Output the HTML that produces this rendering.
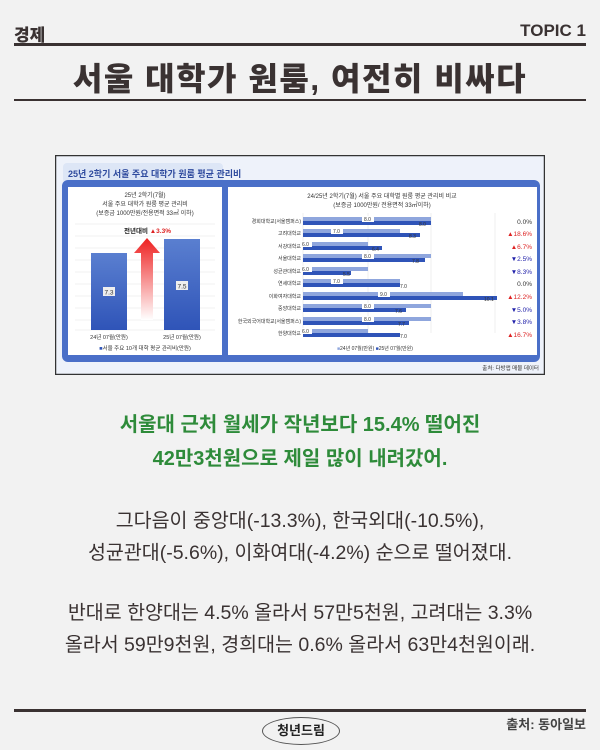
<!DOCTYPE html>
<html><head><meta charset="utf-8"><style>
body{margin:0;width:600px;height:750px;background:#f2f2f2;font-family:"Liberation Sans","Noto Sans CJK KR",sans-serif;position:relative;overflow:hidden;color:#3a3232}
.a{position:absolute}
.t{white-space:nowrap}
</style></head><body>
<div class="a t" style="left:14px;top:21px;font-size:17px;font-weight:900">경제</div>
<div class="a t" style="right:14px;top:21px;font-size:17px;font-weight:900">TOPIC 1</div>
<div class="a" style="left:14px;top:43px;width:572px;height:3px;background:#3a3232"></div>
<div class="a t" style="left:0;width:600px;text-align:center;top:54px;font-size:32px;font-weight:900;letter-spacing:1.5px">서울 대학가 원룸, 여전히 비싸다</div>
<div class="a" style="left:14px;top:99px;width:572px;height:2px;background:#3a3232"></div>

<svg class="a" style="left:55px;top:155px" width="490" height="220" viewBox="0 0 490 220" font-family="Liberation Sans, Noto Sans CJK KR, sans-serif">
<rect x="0.5" y="0.5" width="489" height="219" fill="#eef2fa" stroke="#333" stroke-width="1.5"/>
<rect x="8" y="8" width="160" height="20" rx="4" fill="#dde6f6"/>
<text x="13" y="22" font-size="9" fill="#2e4a9e" font-weight="bold">25년 2학기 서울 주요 대학가 원룸 평균 관리비</text>
<rect x="7" y="25" width="478" height="182" rx="6" fill="#4a6fc8"/>
<rect x="13" y="32" width="154" height="168" fill="#fff"/>
<rect x="173" y="32" width="309" height="168" fill="#fff"/>
<text x="90" y="42" font-size="6" text-anchor="middle" fill="#333">25년 2학기(7월)</text>
<text x="90" y="51" font-size="6" text-anchor="middle" fill="#333">서울 주요 대학가 원룸 평균 관리비</text>
<text x="90" y="60" font-size="6" text-anchor="middle" fill="#333">(보증금 1000만원/전용면적 33㎡ 이하)</text>
<g stroke="#e4e4e4" stroke-width="0.6"><line x1="20" y1="69" x2="160" y2="69"/><line x1="20" y1="81" x2="160" y2="81"/><line x1="20" y1="93" x2="160" y2="93"/><line x1="20" y1="105" x2="160" y2="105"/><line x1="20" y1="117" x2="160" y2="117"/><line x1="20" y1="129" x2="160" y2="129"/><line x1="20" y1="141" x2="160" y2="141"/><line x1="20" y1="153" x2="160" y2="153"/><line x1="20" y1="165" x2="160" y2="165"/><line x1="20" y1="175" x2="160" y2="175"/></g>
<defs><linearGradient id="bg" x1="0" y1="0" x2="0" y2="1"><stop offset="0" stop-color="#5a7fd0"/><stop offset="1" stop-color="#2f54b8"/></linearGradient>
<linearGradient id="ar" x1="0" y1="0" x2="0" y2="1"><stop offset="0" stop-color="#ee2020"/><stop offset="1" stop-color="#fff"/></linearGradient></defs>
<rect x="36" y="98" width="36" height="77" fill="url(#bg)"/>
<rect x="109" y="84" width="36" height="91" fill="url(#bg)"/>
<polygon points="92,83 79,98 86,98 86,165 98,165 98,98 105,98" fill="url(#ar)"/>
<rect x="48" y="132" width="12" height="9" fill="#eee"/><text x="54" y="139.5" font-size="6.5" text-anchor="middle" fill="#333">7.3</text>
<rect x="121" y="126" width="12" height="9" fill="#eee"/><text x="127" y="133.5" font-size="6.5" text-anchor="middle" fill="#333">7.5</text>
<rect x="66" y="70" width="54" height="10" fill="#fff"/>
<text x="69" y="78" font-size="6.5" fill="#222" font-weight="bold">전년대비 <tspan fill="#d22">▲3.3%</tspan></text>
<text x="54" y="184" font-size="5.5" text-anchor="middle" fill="#333">24년 07월(만원)</text>
<text x="127" y="184" font-size="5.5" text-anchor="middle" fill="#333">25년 07월(만원)</text>
<text x="90" y="195" font-size="5.5" text-anchor="middle" fill="#333"><tspan fill="#2f54b8">■</tspan>서울 주요 10개 대학 평균 관리비(만원)</text>
<text x="327" y="43" font-size="6" text-anchor="middle" fill="#333">24/25년 2학기(7월) 서울 주요 대학별 원룸 평균 관리비 비교</text>
<text x="327" y="52" font-size="6" text-anchor="middle" fill="#333">(보증금 1000만원/ 전용면적 33㎡이하)</text>
<g stroke="#e4e4e4" stroke-width="0.6"><line x1="248" y1="58" x2="248" y2="178"/><line x1="313" y1="58" x2="313" y2="178"/><line x1="376" y1="58" x2="376" y2="178"/><line x1="440" y1="58" x2="440" y2="178"/></g>
<g font-size="5" fill="#333" text-anchor="end">
<text x="246" y="68">경희대학교(서울캠퍼스)</text><text x="246" y="80">고려대학교</text><text x="246" y="93">서강대학교</text><text x="246" y="105">서울대학교</text><text x="246" y="118">성균관대학교</text><text x="246" y="130">연세대학교</text><text x="246" y="143">이화여자대학교</text><text x="246" y="155">중앙대학교</text><text x="246" y="168">한국외국어대학교(서울캠퍼스)</text><text x="246" y="180">한양대학교</text>
</g>
<g fill="#8fa6dd">
<rect x="248" y="62" width="128" height="4"/><rect x="248" y="74" width="97" height="4"/><rect x="248" y="87" width="65" height="4"/><rect x="248" y="99" width="128" height="4"/><rect x="248" y="112" width="65" height="4"/><rect x="248" y="124" width="97" height="4"/><rect x="248" y="137" width="160" height="4"/><rect x="248" y="149" width="128" height="4"/><rect x="248" y="162" width="128" height="4"/><rect x="248" y="174" width="65" height="4"/>
</g>
<g fill="#2f54b8">
<rect x="248" y="66" width="128" height="4"/><rect x="248" y="78" width="117" height="4"/><rect x="248" y="91" width="79" height="4"/><rect x="248" y="103" width="122" height="4"/><rect x="248" y="116" width="48" height="4"/><rect x="248" y="128" width="97" height="4"/><rect x="248" y="141" width="194" height="4"/><rect x="248" y="153" width="103" height="4"/><rect x="248" y="166" width="106" height="4"/><rect x="248" y="178" width="97" height="4"/>
</g>
<g fill="#fff">
<rect x="307" y="61" width="12" height="6"/><rect x="276" y="73" width="12" height="6"/><rect x="245" y="86" width="12" height="6"/><rect x="307" y="98" width="12" height="6"/><rect x="245" y="111" width="12" height="6"/><rect x="276" y="123" width="12" height="6"/><rect x="323" y="136" width="12" height="6"/><rect x="307" y="148" width="12" height="6"/><rect x="307" y="161" width="12" height="6"/><rect x="245" y="173" width="12" height="6"/>
</g>
<g font-size="5" fill="#333">
<text x="309" y="66">8.0</text><text x="278" y="78">7.0</text><text x="247" y="91">6.0</text><text x="309" y="103">8.0</text><text x="247" y="116">6.0</text><text x="278" y="128">7.0</text><text x="325" y="141">9.0</text><text x="309" y="153">8.0</text><text x="309" y="166">8.0</text><text x="247" y="178">6.0</text>
<text x="364" y="71">8.0</text><text x="354" y="83">8.3</text><text x="317" y="96">6.4</text><text x="357" y="108">7.8</text><text x="288" y="121">5.5</text><text x="345" y="133">7.0</text><text x="429" y="146">10.1</text><text x="340" y="158">7.6</text><text x="343" y="171">7.7</text><text x="345" y="183">7.0</text>
</g>
<g font-size="6.5" text-anchor="end">
<text x="477" y="69" fill="#333">0.0%</text><text x="477" y="81" fill="#d22">▲18.6%</text><text x="477" y="94" fill="#d22">▲6.7%</text><text x="477" y="106" fill="#22a">▼2.5%</text><text x="477" y="119" fill="#22a">▼8.3%</text><text x="477" y="131" fill="#333">0.0%</text><text x="477" y="144" fill="#d22">▲12.2%</text><text x="477" y="157" fill="#22a">▼5.0%</text><text x="477" y="169" fill="#22a">▼3.8%</text><text x="477" y="182" fill="#d22">▲16.7%</text>
</g>
<text x="282" y="195" font-size="5" fill="#333"><tspan fill="#8fa6dd">■</tspan>24년 07월(만원)   <tspan fill="#2f54b8">■</tspan>25년 07월(만원)</text>
<text x="484" y="215" font-size="5.5" text-anchor="end" fill="#333">출처: 다방앱 매물 데이터</text>
</svg>

<div class="a t" style="left:0;width:600px;text-align:center;top:408px;font-size:20px;line-height:34px;color:#2e8b3a;font-weight:bold">서울대 근처 월세가 작년보다 15.4% 떨어진<br>42만3천원으로 제일 많이 내려갔어.</div>
<div class="a t" style="left:0;width:600px;text-align:center;top:505px;font-size:19.5px;line-height:32px;color:#3a3232">그다음이 중앙대(-13.3%), 한국외대(-10.5%),<br>성균관대(-5.6%), 이화여대(-4.2%) 순으로 떨어졌대.</div>
<div class="a t" style="left:0;width:600px;text-align:center;top:597px;font-size:19.5px;line-height:32px;color:#3a3232">반대로 한양대는 4.5% 올라서 57만5천원, 고려대는 3.3%<br>올라서 59만9천원, 경희대는 0.6% 올라서 63만4천원이래.</div>

<div class="a" style="left:14px;top:709px;width:572px;height:3px;background:#3a3232"></div>
<div class="a t" style="left:262px;top:717px;width:76px;height:26px;border:1px solid #555;border-radius:50%;text-align:center;line-height:26px;font-size:13px;font-weight:bold;color:#222">청년드림</div>
<div class="a t" style="right:14px;top:714px;font-size:13px;font-weight:bold;color:#444">출처: 동아일보</div>
</body></html>
